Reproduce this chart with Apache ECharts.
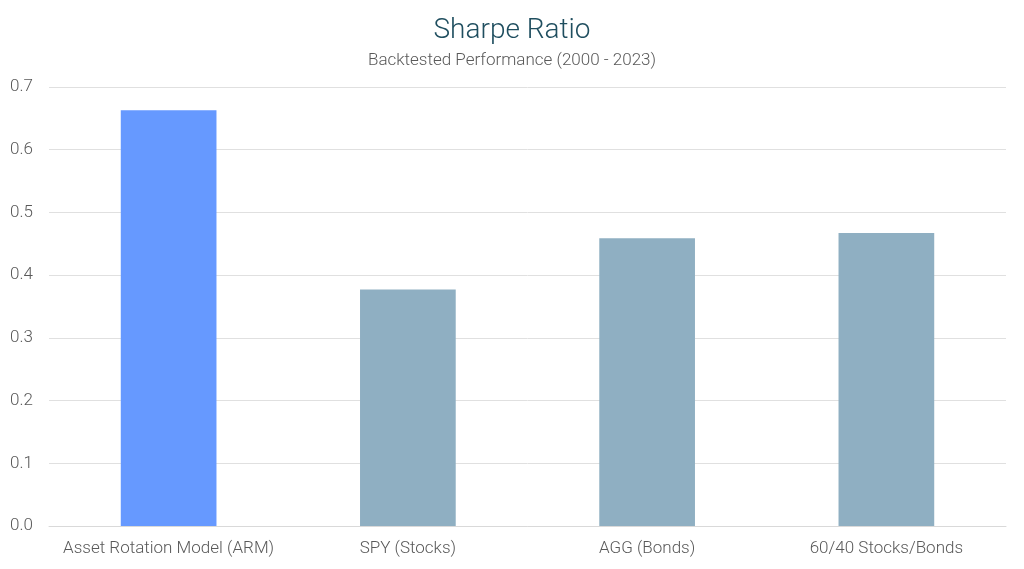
<!DOCTYPE html>
<html><head><meta charset="utf-8">
<script src="https://cdn.jsdelivr.net/npm/echarts@6/dist/echarts.min.js"></script>
<style>html,body{margin:0;padding:0;background:#fff}#c{width:1024px;height:569px}</style>
</head><body><div id="c"></div>
<script>
const categories = ['Asset Rotation Model (ARM)', 'SPY (Stocks)', 'AGG (Bonds)', '60/40 Stocks/Bonds'];
const sharpeValues = [0.663, 0.377, 0.459, 0.467];
const barColors = ['#6699FF', '#8FAFC2', '#8FAFC2', '#8FAFC2'];
const chart = echarts.init(document.getElementById('c'));
chart.setOption({
  animation: false,
  textStyle: {fontFamily: 'Roboto'},
  title: {
    text: 'Sharpe Ratio', subtext: 'Backtested Performance (2000 - 2023)',
    left: 'center', top: 12, itemGap: 7,
    textStyle: {fontFamily: 'Roboto', fontSize: 28, fontWeight: 300, color: '#1F4E5F'},
    subtextStyle: {fontFamily: 'Roboto', fontSize: 17, fontWeight: 300, color: '#595959'}
  },
  grid: {left: 49, right: 18, top: 87, bottom: 43},
  xAxis: {
    type: 'category', data: categories,
    axisLine: {lineStyle: {color: '#D9D9D9'}},
    axisTick: {show: false},
    axisLabel: {color: '#595959', fontSize: 17, fontWeight: 300, margin: 14, interval: 0, fontFamily: 'Roboto'}
  },
  yAxis: {
    type: 'value', min: 0, max: 0.7, interval: 0.1,
    axisLabel: {color: '#595959', fontSize: 17, fontWeight: 300, margin: 16, fontFamily: 'Roboto', formatter: v => v.toFixed(1)},
    splitLine: {lineStyle: {color: '#E0E0E0'}},
    axisLine: {show: false}, axisTick: {show: false}
  },
  series: [{
    type: 'bar', barWidth: '40%',
    data: sharpeValues.map((v, i) => ({value: v, itemStyle: {color: barColors[i]}}))
  }]
});
</script></body></html>
